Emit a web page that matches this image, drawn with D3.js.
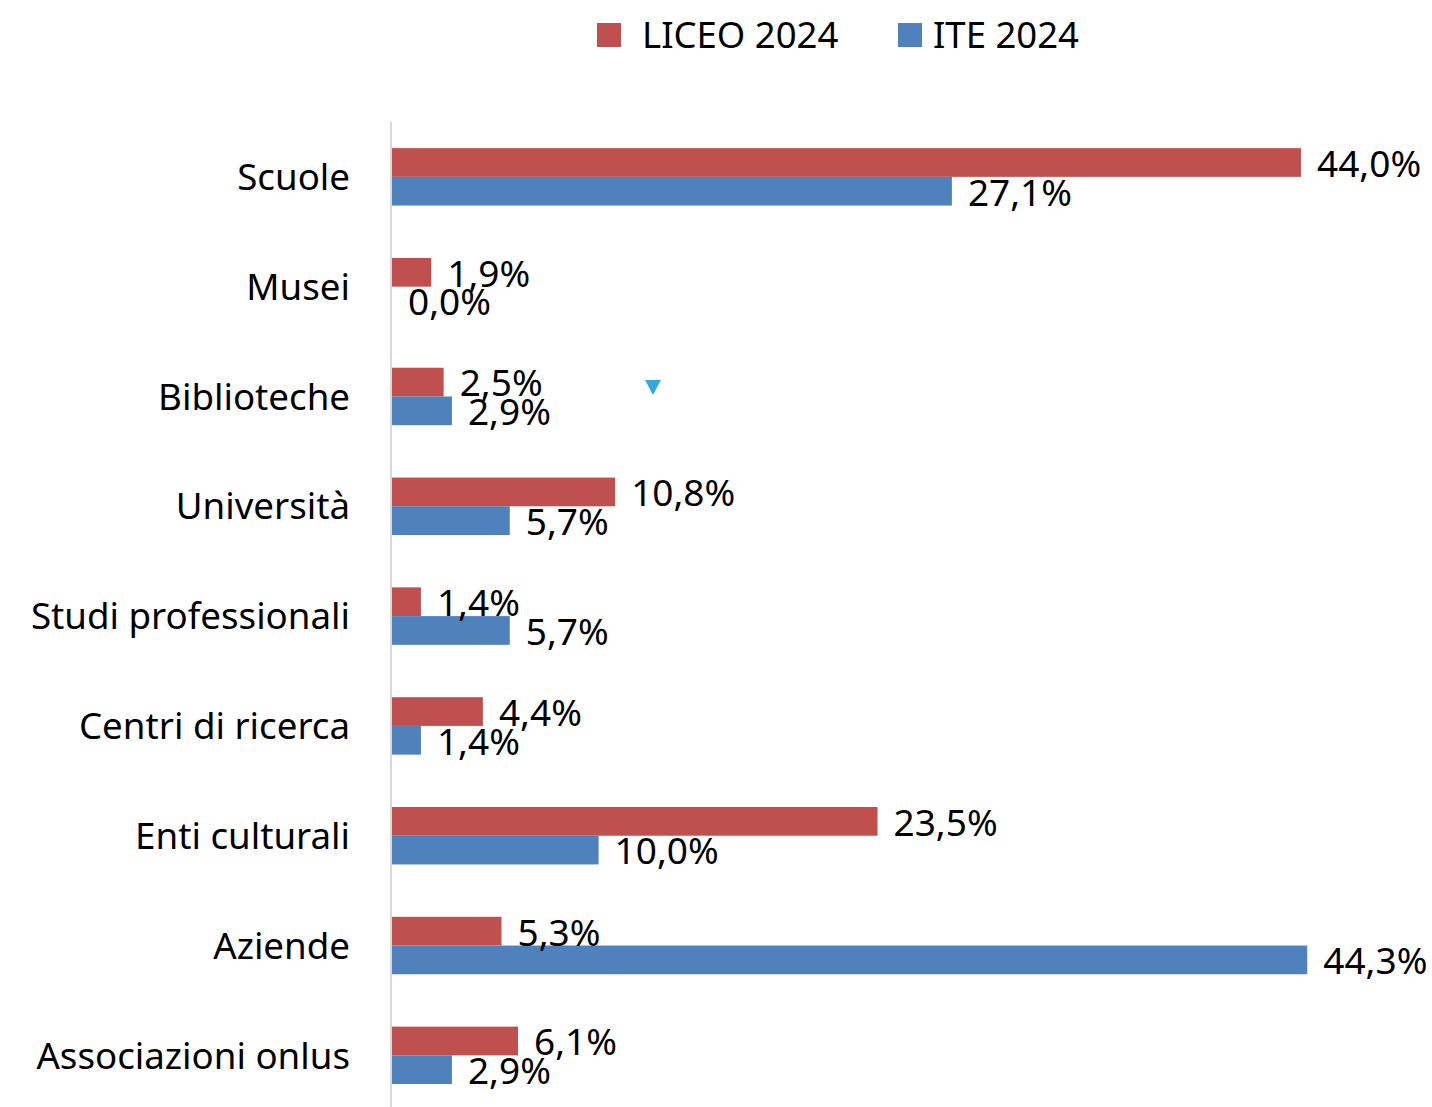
<!DOCTYPE html>
<html>
<head>
<meta charset="utf-8">
<script src="https://cdn.jsdelivr.net/npm/d3@7"></script>
<style>
  body { margin: 0; background: #fff; }
  text { font-family: "Noto Sans", "Open Sans", sans-serif; fill: #000; }
</style>
</head>
<body>
<div id="chart"></div>
<script>
const categories = ["Scuole", "Musei", "Biblioteche", "Università", "Studi professionali", "Centri di ricerca", "Enti culturali", "Aziende", "Associazioni onlus"]
const liceo = [44.0, 1.9, 2.5, 10.8, 1.4, 4.4, 23.5, 5.3, 6.1]
const ite = [27.1, 0.0, 2.9, 5.7, 5.7, 1.4, 10.0, 44.3, 2.9]
const seriesNames = ["LICEO 2024", "ITE 2024"]
const colors = ["#C0504D", "#4F81BD"]

const width = 1432
const height = 1107
const left = 391

const svg = d3.select("#chart").append("svg")
    .attr("width", width)
    .attr("height", height)

const xScale = d3.scaleLinear()
    .domain([0, 50])
    .range([left, left + 1033])

const yScale = d3.scaleBand()
    .domain(categories)
    .range([122, 122 + 109.8 * categories.length])
    .paddingInner(0.477)
    .paddingOuter(0.238)

const sub = d3.scaleBand()
    .domain(seriesNames)
    .range([0, yScale.bandwidth()])

// axis line
svg.append("line")
    .attr("x1", left).attr("x2", left)
    .attr("y1", 122).attr("y2", height)
    .attr("stroke", "#D9D9D9")
    .attr("stroke-width", 2)

const rows = categories.map((c, i) => ({cat: c, vals: [liceo[i], ite[i]]}))

const groups = svg.selectAll(".row")
    .data(rows)
    .enter()
    .append("g")
    .attr("transform", d => `translate(0,${yScale(d.cat)})`)

groups.selectAll("rect")
    .data(d => d.vals.map((v, j) => ({v: v, s: seriesNames[j], c: colors[j]})))
    .enter()
    .append("rect")
    .attr("x", left + 1)
    .attr("y", d => sub(d.s))
    .attr("width", d => xScale(d.v) - left)
    .attr("height", sub.bandwidth())
    .attr("fill", d => d.c)

groups.selectAll(".lbl")
    .data(d => d.vals.map((v, j) => ({v: v, s: seriesNames[j]})))
    .enter()
    .append("text")
    .attr("class", "lbl")
    .attr("x", d => xScale(d.v) + 17)
    .attr("y", d => sub(d.s) + sub.bandwidth() / 2 + 1)
    .attr("dy", "0.36em")
    .style("font-size", "37px")
    .text(d => d.v.toFixed(1).replace(".", ",") + "%")

// category labels
svg.selectAll(".cat")
    .data(categories)
    .enter()
    .append("text")
    .attr("class", "cat")
    .attr("x", 350)
    .attr("y", d => yScale(d) + yScale.bandwidth() / 2)
    .attr("dy", "0.36em")
    .attr("text-anchor", "end")
    .style("font-size", "36.7px")
    .text(d => d)

// legend
const legendX = [597, 898]
const legend = svg.selectAll(".legend")
    .data(seriesNames)
    .enter()
    .append("g")
    .attr("transform", (d, i) => `translate(${legendX[i]},23)`)

legend.append("rect")
    .attr("width", 24)
    .attr("height", 24)
    .attr("fill", (d, i) => colors[i])

legend.append("text")
    .attr("x", (d, i) => i === 0 ? 45 : 35)
    .attr("y", 12)
    .attr("dy", "0.36em")
    .style("font-size", "36.5px")
    .text(d => d)

// small marker
svg.append("path")
    .attr("d", "M645,380 L661,380 L653,395 Z")
    .attr("fill", "#33A8DC")
</script>
</body>
</html>
